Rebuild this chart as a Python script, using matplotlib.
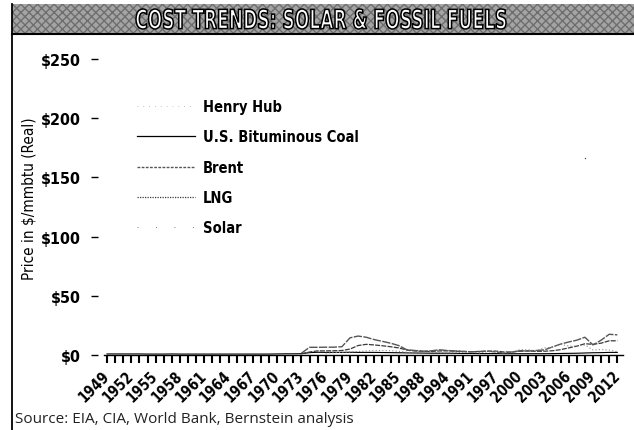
import numpy as np
import matplotlib
matplotlib.use('Agg')
import matplotlib.pyplot as plt
from matplotlib.textpath import TextPath
from matplotlib.patches import PathPatch, Rectangle
from matplotlib.font_manager import FontProperties
from matplotlib.transforms import Affine2D, ScaledTranslation
from matplotlib.lines import Line2D

W, H = 634, 431

title = 'COST TRENDS: SOLAR & FOSSIL FUELS'
source = 'Source: EIA, CIA, World Bank, Bernstein analysis'
ylabel = 'Price in $/mmbtu (Real)'

# tick labels as printed (note the 1994/1991 order on the original)
xtick_years = list(range(1949, 2013, 3))
xtick_labels = ['1949', '1952', '1955', '1958', '1961', '1964', '1967', '1970',
                '1973', '1976', '1979', '1982', '1985', '1988', '1994', '1991',
                '1997', '2000', '2003', '2006', '2009', '2012']
yticks = [0, 50, 100, 150, 200, 250]
ytick_labels = ['$0', '$50', '$100', '$150', '$200', '$250']

# --- data, $/mmbtu real ---
coal_years = list(range(1949, 2013))
coal = [0.9, 0.9, 0.9, 0.9, 0.9, 0.8, 0.8, 0.8, 0.9, 0.8, 0.8, 0.8, 0.8, 0.8,
        0.8, 0.8, 0.8, 0.8, 0.8, 0.8, 0.8, 0.9, 1.0, 1.0, 1.1, 2.0, 2.3, 2.2,
        2.2, 2.2, 2.3, 2.2, 2.2, 2.2, 2.1, 2.0, 1.9, 1.8, 1.7, 1.6, 1.5, 1.5,
        1.5, 1.4, 1.3, 1.3, 1.2, 1.2, 1.2, 1.1, 1.1, 1.1, 1.1, 1.1, 1.1, 1.2,
        1.3, 1.4, 1.5, 1.7, 1.9, 2.0, 2.2, 2.2]

brent_years = list(range(1973, 2013))
brent = [1.5, 6.5, 6.5, 6.6, 6.6, 7.0, 14.5, 16.0, 15.0, 13.0, 11.5, 10.0,
         8.0, 4.5, 3.8, 3.2, 3.5, 4.4, 3.8, 3.4, 3.0, 2.7, 2.9, 3.3, 2.6,
         1.6, 2.6, 3.6, 3.4, 3.8, 4.3, 6.8, 9.2, 11.0, 12.5, 15.0, 8.5,
         12.5, 17.5, 17.0]

lng_years = list(range(1973, 2013))
lng = [1.0, 2.5, 3.5, 3.5, 3.6, 3.8, 5.0, 8.0, 9.0, 8.5, 7.8, 7.0, 6.0,
       4.2, 3.4, 3.1, 3.0, 3.4, 3.5, 3.2, 3.0, 2.8, 3.0, 3.2, 3.3, 2.6,
       2.5, 3.2, 3.4, 3.1, 3.2, 3.6, 4.5, 6.0, 7.5, 9.5, 9.0, 10.0, 12.0,
       12.0]

hh_years = list(range(1976, 2013))
henry_hub = [1.5, 2.0, 2.2, 2.6, 3.0, 3.4, 3.8, 3.8, 3.6, 3.2, 2.4, 2.0,
             2.0, 2.1, 2.2, 1.9, 2.0, 2.3, 2.1, 1.8, 2.7, 2.7, 2.3, 2.5,
             4.6, 4.4, 3.6, 6.0, 6.5, 9.0, 7.5, 7.5, 8.5, 4.2, 4.6, 4.2, 2.8]

solar_years = [2008]
solar = [166]

cond_bold = dict(family='DejaVu Sans', stretch='condensed', weight='bold')

fig = plt.figure(figsize=(W / 100, H / 100), dpi=100)

# frame: left rule and textured title band
fig.add_artist(Line2D([12 / W, 12 / W], [0, 1 - 5 / H], color='black', lw=1.3))
band = Rectangle((12 / W, 1 - 35 / H), 1 - 12 / W, 30 / H, transform=fig.transFigure,
                 facecolor='#a4a4a4', edgecolor='#6e6e6e', hatch='xxxx', lw=0)
fig.add_artist(band)
fig.add_artist(Line2D([12 / W, 1], [1 - 35 / H, 1 - 35 / H], color='black', lw=1.5))

# title squeezed to the width of the printed one
fp = FontProperties(**cond_bold)
tp = TextPath((0, 0), title, size=1, prop=fp)
ext = tp.get_extents()
sx = 370 / ext.width
sy = 20 / ext.height
tr = (Affine2D().translate(-ext.x0, -ext.y0).scale(sx / W, sy / H)
      .translate(136 / W, 1 - 30 / H) + fig.transFigure)
fig.add_artist(PathPatch(tp, transform=tr, facecolor='white', edgecolor='black', lw=1.1))

ax = fig.add_axes([98 / W, (H - 356) / H, (625 - 98) / W, (356 - 48) / H])
x0 = 1949 - 9 / 8.1
x1 = 1949 + (625 - 107) / 8.1
ax.set_xlim(x0, x1)
ax.set_ylim(0, (356 - 48) / 1.184)

ax.plot(coal_years, coal, color='black', lw=0.8)
ax.plot(lng_years, lng, color='#3a3a3a', lw=0.9, ls=(0, (4, 1)))
ax.plot(brent_years, brent, color='#555555', lw=1.0, ls=(0, (6, 1)))
ax.plot(hh_years, henry_hub, color='#8a8a8a', lw=0.8, ls=(0, (1, 2)))
ax.plot(solar_years, solar, 'o', color='#444444', ms=1.0, mew=0)

for s in ['top', 'right', 'left']:
    ax.spines[s].set_visible(False)
ax.spines['bottom'].set_bounds(1948.6, 2012.7)
ax.spines['bottom'].set_linewidth(1.0)

ax.set_yticks(yticks)
ax.set_yticklabels(ytick_labels, fontsize=11.5, **cond_bold)
ax.tick_params(axis='y', length=5, width=1.0, pad=7, colors='black')

ax.set_xticks(coal_years, minor=True)
ax.set_xticks(xtick_years)
ax.set_xticklabels(xtick_labels, fontsize=10.5, rotation=45, ha='right', va='center',
                   rotation_mode='anchor', **cond_bold)
shift = ScaledTranslation(10 / 100, 0, fig.dpi_scale_trans)
for lab in ax.get_xticklabels():
    lab.set_transform(lab.get_transform() + shift)
ax.tick_params(axis='x', which='both', length=6, width=1.5, direction='out', pad=7)

ax.set_ylabel(ylabel, family='DejaVu Sans', stretch='condensed', fontsize=11)
ax.yaxis.set_label_coords(37 / W, (H - 199) / H, transform=fig.transFigure)

handles = [
    Line2D([], [], color='#b0b0b0', lw=0.6, ls=(0, (1, 6))),
    Line2D([], [], color='black', lw=0.9),
    Line2D([], [], color='#555555', lw=1.0, ls=(0, (2, 1))),
    Line2D([], [], color='#3a3a3a', lw=0.9, ls=(0, (1, 1))),
    Line2D([], [], color='#808080', lw=0.7, ls=(0, (1, 18))),
]
names = ['Henry Hub', 'U.S. Bituminous Coal', 'Brent', 'LNG', 'Solar']
leg = ax.legend(handles, names, loc='upper left', bbox_to_anchor=(137 / W, 1 - 100 / H),
                bbox_transform=fig.transFigure, frameon=False, borderpad=0,
                borderaxespad=0, handlelength=4.0, handletextpad=0.5,
                labelspacing=1.05, prop=FontProperties(size=10.5, **cond_bold))

fig.text(15 / W, 1 - 420 / H, source, family=['Open Sans', 'DejaVu Sans'],
         fontsize=11, va='center', ha='left', color='#222222')

fig.savefig('out.png', dpi=100)
